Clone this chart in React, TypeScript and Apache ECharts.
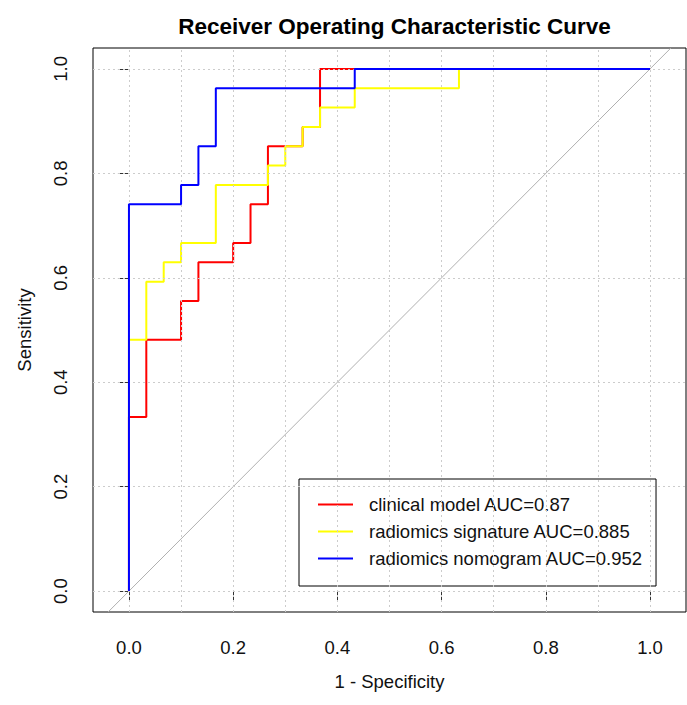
import React, { useEffect, useRef } from "react";
import * as echarts from "echarts";

// ROC curve vertices: [1 - specificity, sensitivity]
const clinicalPoints: [number, number][] = [
  [0, 0], [0, 0.3333], [0.0333, 0.3333], [0.0333, 0.4815], [0.1, 0.4815], [0.1, 0.5556],
  [0.1333, 0.5556], [0.1333, 0.6296], [0.2, 0.6296], [0.2, 0.6667], [0.2333, 0.6667],
  [0.2333, 0.7407], [0.2667, 0.7407], [0.2667, 0.8519], [0.3333, 0.8519], [0.3333, 0.8889],
  [0.3667, 0.8889], [0.3667, 1], [1, 1],
];
const signaturePoints: [number, number][] = [
  [0, 0], [0, 0.4815], [0.0333, 0.4815], [0.0333, 0.5926], [0.0667, 0.5926], [0.0667, 0.6296],
  [0.1, 0.6296], [0.1, 0.6667], [0.1667, 0.6667], [0.1667, 0.7778], [0.2667, 0.7778],
  [0.2667, 0.8148], [0.3, 0.8148], [0.3, 0.8519], [0.3333, 0.8519], [0.3333, 0.8889],
  [0.3667, 0.8889], [0.3667, 0.9259], [0.4333, 0.9259], [0.4333, 0.963], [0.6333, 0.963],
  [0.6333, 1], [1, 1],
];
const nomogramPoints: [number, number][] = [
  [0, 0], [0, 0.7407], [0.1, 0.7407], [0.1, 0.7778], [0.1333, 0.7778], [0.1333, 0.8519],
  [0.1667, 0.8519], [0.1667, 0.963], [0.4333, 0.963], [0.4333, 1], [1, 1],
];
const diagonalPoints: [number, number][] = [[-0.04, -0.04], [1.04, 1.04]];

const modelNames = ["clinical model", "radiomics signature", "radiomics nomogram"];
const aucValues = ["0.87", "0.885", "0.952"];
const seriesColors = ["#ff0000", "#ffff00", "#0000ff"];

const xTickValues = [0, 0.2, 0.4, 0.6, 0.8, 1.0];
const yTickValues = [0, 0.2, 0.4, 0.6, 0.8, 1.0];
const xGridValues = [0, 0.1, 0.2, 0.3, 0.4, 0.5, 0.6, 0.7, 0.8, 0.9, 1.0];
const yGridValues = [0, 0.2, 0.4, 0.6, 0.8, 1.0];

const FONT = "'Liberation Sans', Arial, Helvetica, sans-serif";

export default function App() {
  const ref = useRef<HTMLDivElement>(null);
  useEffect(() => {
    document.body.style.margin = "0";
    if (!ref.current) return;
    const chart = echarts.init(ref.current, null, { renderer: "svg" });
    const names = modelNames.map((n, i) => `${n} AUC=${aucValues[i]}`);
    const curves = [clinicalPoints, signaturePoints, nomogramPoints];
    const gridLineStyle = { color: "#cccccc", width: 1, type: [2, 3] as number[] };
    chart.setOption({
      animation: false,
      backgroundColor: "#ffffff",
      textStyle: { fontFamily: FONT },
      title: {
        text: "Receiver Operating Characteristic Curve",
        left: 389.5,
        top: 10,
        textAlign: "center",
        textStyle: { fontSize: 22.5, fontWeight: "bold", color: "#000", fontFamily: FONT },
      },
      grid: {
        left: 93,
        top: 48,
        right: 1,
        bottom: 93,
        show: true,
        borderColor: "#000",
        borderWidth: 1,
        backgroundColor: "transparent",
      },
      legend: {
        orient: "vertical",
        left: 299,
        top: 479,
        data: names,
        backgroundColor: "#ffffff",
        borderColor: "#000",
        borderWidth: 1,
        borderRadius: 0,
        padding: [16, 13, 18, 18],
        itemWidth: 35,
        itemHeight: 18,
        itemGap: 8,
        selectedMode: false,
        itemStyle: { opacity: 0 },
        lineStyle: { width: 2 },
        textStyle: {
          fontSize: 18.5,
          color: "#111",
          fontFamily: FONT,
          lineHeight: 18,
          padding: [0, 0, 0, 11],
        },
      },
      xAxis: {
        type: "value",
        min: -0.069,
        max: 1.069,
        name: "1 - Specificity",
        nameLocation: "middle",
        nameGap: 60,
        nameTextStyle: { fontSize: 18.5, color: "#111", fontFamily: FONT },
        axisLine: { show: false },
        splitLine: { show: false },
        axisTick: {
          show: true,
          customValues: xTickValues,
          length: 10,
          lineStyle: { color: "#333", width: 1 },
        },
        axisLabel: {
          customValues: xTickValues,
          formatter: (v: number) => v.toFixed(1),
          margin: 26,
          fontSize: 18.5,
          color: "#111",
          fontFamily: FONT,
        },
      },
      yAxis: {
        type: "value",
        min: -0.04,
        max: 1.04,
        name: "Sensitivity",
        nameLocation: "middle",
        nameGap: 59,
        nameRotate: 90,
        nameTextStyle: { fontSize: 18.5, color: "#111", fontFamily: FONT },
        axisLine: { show: false },
        splitLine: { show: false },
        axisTick: {
          show: true,
          customValues: yTickValues,
          length: 11,
          lineStyle: { color: "#333", width: 1 },
        },
        axisLabel: {
          customValues: yTickValues,
          formatter: (v: number) => v.toFixed(1),
          rotate: 90,
          margin: 23,
          fontSize: 18.5,
          color: "#111",
          fontFamily: FONT,
        },
      },
      series: [
        {
          type: "line",
          name: "diagonal",
          data: diagonalPoints,
          symbol: "none",
          silent: true,
          z: 1,
          lineStyle: { color: "#b0b0b0", width: 1 },
          markLine: {
            silent: true,
            symbol: ["none", "none"],
            label: { show: false },
            lineStyle: gridLineStyle,
            emphasis: { disabled: true },
            data: [
              ...xGridValues.map((v) => ({ xAxis: v })),
              ...yGridValues.map((v) => ({ yAxis: v })),
            ],
          },
        },
        ...curves.map((pts, i) => ({
          type: "line",
          name: names[i],
          data: pts,
          symbol: "none",
          showSymbol: false,
          z: 3 + i,
          lineStyle: { color: seriesColors[i], width: 2 },
          itemStyle: { color: seriesColors[i] },
          emphasis: { disabled: true },
        })),
      ],
    });
    return () => chart.dispose();
  }, []);
  return <div ref={ref} style={{ width: 687, height: 705 }} />;
}
